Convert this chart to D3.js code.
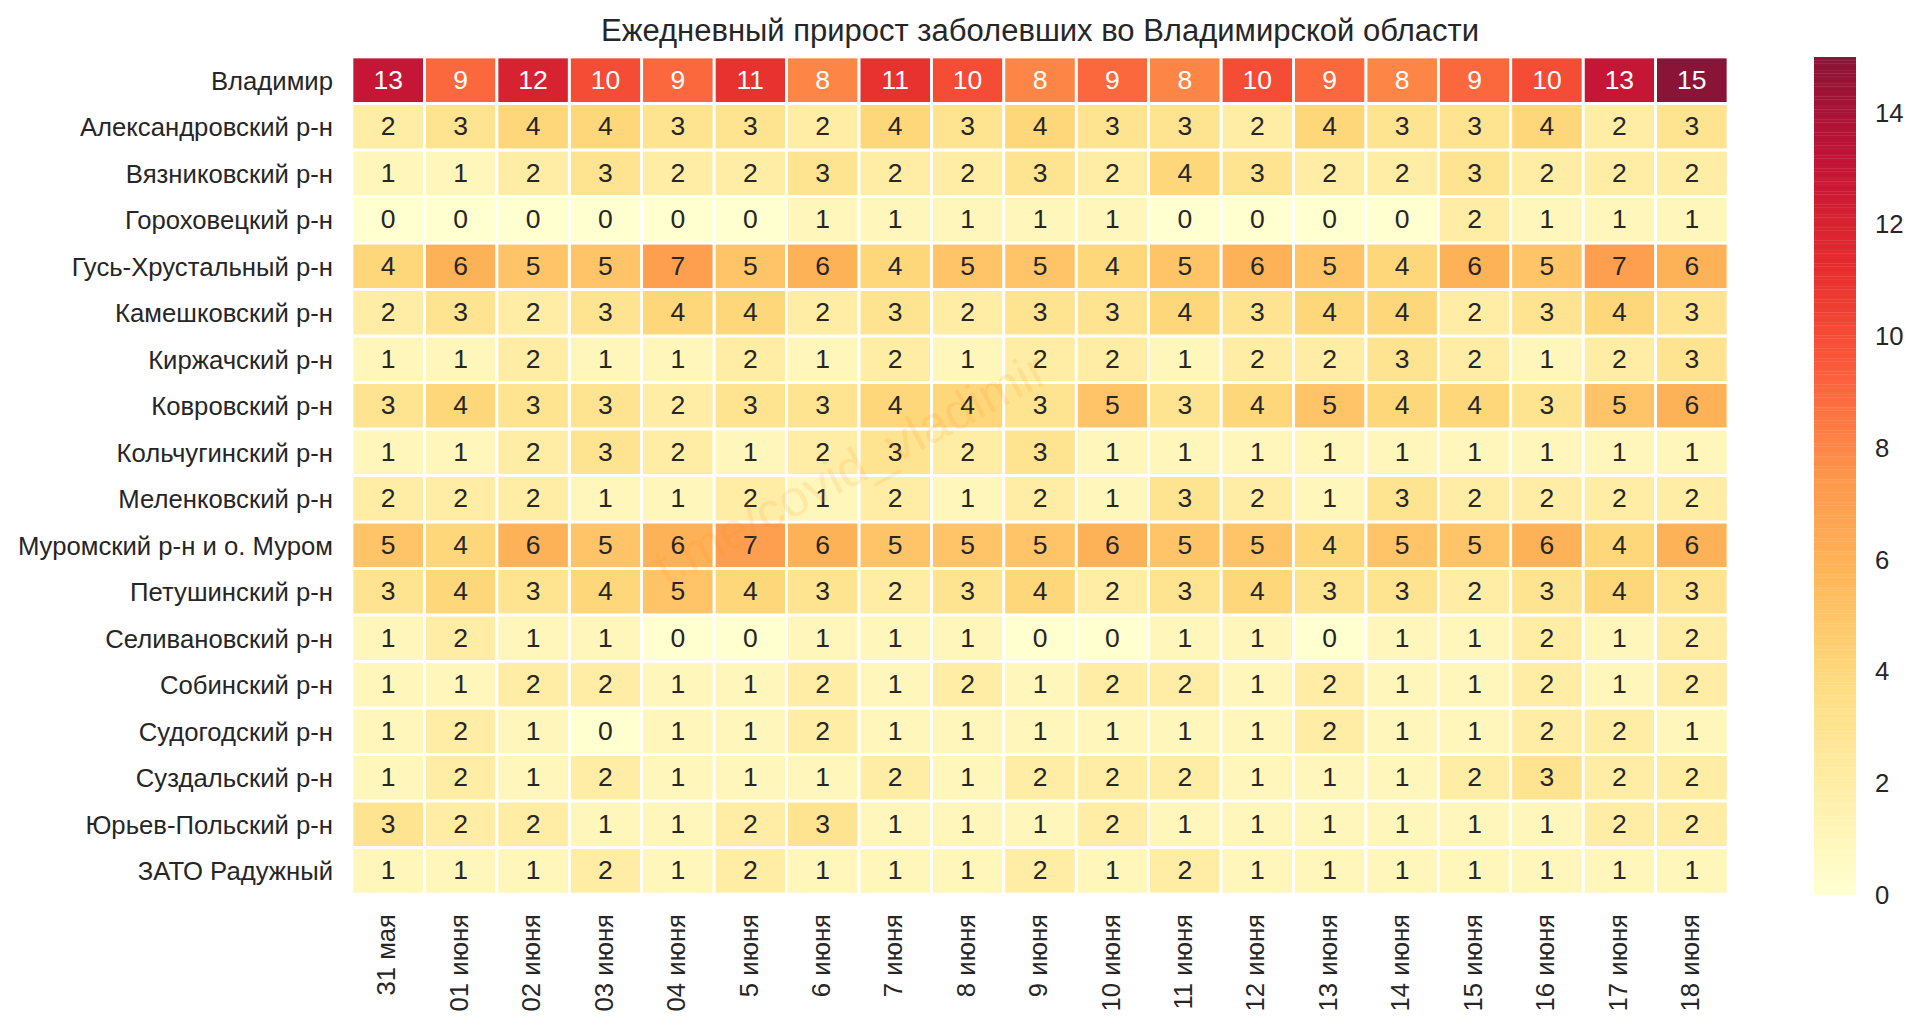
<!DOCTYPE html>
<html>
<head>
<meta charset="utf-8">
<script src="https://d3js.org/d3.v7.min.js"></script>
<style>
    html, body { margin: 0; padding: 0; background: #fff; }
    svg { display: block; font-family: "Liberation Sans", Arial, sans-serif; }
</style>
</head>
<body>
<svg id="chart" width="1920" height="1029"></svg>
<script>
const dates = ['31 мая', '01 июня', '02 июня', '03 июня', '04 июня', '5 июня', '6 июня', '7 июня', '8 июня', '9 июня',
    '10 июня', '11 июня', '12 июня', '13 июня', '14 июня', '15 июня', '16 июня', '17 июня', '18 июня'];

const districts = ['Владимир', 'Александровский р-н', 'Вязниковский р-н', 'Гороховецкий р-н', 'Гусь-Хрустальный р-н',
    'Камешковский р-н', 'Киржачский р-н', 'Ковровский р-н', 'Кольчугинский р-н', 'Меленковский р-н',
    'Муромский р-н и о. Муром', 'Петушинский р-н', 'Селивановский р-н', 'Собинский р-н', 'Судогодский р-н',
    'Суздальский р-н', 'Юрьев-Польский р-н', 'ЗАТО Радужный'];

const values = [
    [13, 9, 12, 10, 9, 11, 8, 11, 10, 8, 9, 8, 10, 9, 8, 9, 10, 13, 15],
    [2, 3, 4, 4, 3, 3, 2, 4, 3, 4, 3, 3, 2, 4, 3, 3, 4, 2, 3],
    [1, 1, 2, 3, 2, 2, 3, 2, 2, 3, 2, 4, 3, 2, 2, 3, 2, 2, 2],
    [0, 0, 0, 0, 0, 0, 1, 1, 1, 1, 1, 0, 0, 0, 0, 2, 1, 1, 1],
    [4, 6, 5, 5, 7, 5, 6, 4, 5, 5, 4, 5, 6, 5, 4, 6, 5, 7, 6],
    [2, 3, 2, 3, 4, 4, 2, 3, 2, 3, 3, 4, 3, 4, 4, 2, 3, 4, 3],
    [1, 1, 2, 1, 1, 2, 1, 2, 1, 2, 2, 1, 2, 2, 3, 2, 1, 2, 3],
    [3, 4, 3, 3, 2, 3, 3, 4, 4, 3, 5, 3, 4, 5, 4, 4, 3, 5, 6],
    [1, 1, 2, 3, 2, 1, 2, 3, 2, 3, 1, 1, 1, 1, 1, 1, 1, 1, 1],
    [2, 2, 2, 1, 1, 2, 1, 2, 1, 2, 1, 3, 2, 1, 3, 2, 2, 2, 2],
    [5, 4, 6, 5, 6, 7, 6, 5, 5, 5, 6, 5, 5, 4, 5, 5, 6, 4, 6],
    [3, 4, 3, 4, 5, 4, 3, 2, 3, 4, 2, 3, 4, 3, 3, 2, 3, 4, 3],
    [1, 2, 1, 1, 0, 0, 1, 1, 1, 0, 0, 1, 1, 0, 1, 1, 2, 1, 2],
    [1, 1, 2, 2, 1, 1, 2, 1, 2, 1, 2, 2, 1, 2, 1, 1, 2, 1, 2],
    [1, 2, 1, 0, 1, 1, 2, 1, 1, 1, 1, 1, 1, 2, 1, 1, 2, 2, 1],
    [1, 2, 1, 2, 1, 1, 1, 2, 1, 2, 2, 2, 1, 1, 1, 2, 3, 2, 2],
    [3, 2, 2, 1, 1, 2, 3, 1, 1, 1, 2, 1, 1, 1, 1, 1, 1, 2, 2],
    [1, 1, 1, 2, 1, 2, 1, 1, 1, 2, 1, 2, 1, 1, 1, 1, 1, 1, 1]
];

const colorbarTicks = [0, 2, 4, 6, 8, 10, 12, 14];

const LEFT = 352, RIGHT = 1728, TOP = 57, BOTTOM = 894;
const BAR_LEFT = 1814, BAR_RIGHT = 1856;
const TEXT_COLOR = '#262626';
const FONT_SIZE = 25.7;
const ALPHA = 0.92;

const svg = d3.select('#chart');

const x = d3.scaleBand().domain(dates).range([LEFT, RIGHT]);
const y = d3.scaleBand().domain(districts).range([TOP, BOTTOM]);

// same stops as matplotlib YlOrRd
const palette = d3.schemeYlOrRd[9];
const color = d3.scaleLinear()
    .domain(palette.map((c, i) => i * 15 / 8))
    .range(palette)
    .interpolate(d3.interpolateRgb);

const cells = [];
values.forEach((row, r) => row.forEach((v, c) => cells.push({ district: districts[r], date: dates[c], value: v })));

// cells
svg.append('g').selectAll('rect')
    .data(cells)
    .join('rect')
    .attr('x', d => x(d.date))
    .attr('y', d => y(d.district))
    .attr('width', x.bandwidth())
    .attr('height', y.bandwidth())
    .attr('fill', d => color(d.value))
    .attr('fill-opacity', ALPHA);

// white grid between the cells
svg.append('g').selectAll('rect')
    .data(cells)
    .join('rect')
    .attr('x', d => x(d.date))
    .attr('y', d => y(d.district))
    .attr('width', x.bandwidth())
    .attr('height', y.bandwidth())
    .attr('fill', 'none')
    .attr('stroke', '#fff')
    .attr('stroke-width', 2.7);

// annotations
svg.append('g').selectAll('text')
    .data(cells)
    .join('text')
    .text(d => d.value)
    .attr('x', d => x(d.date) + x.bandwidth() / 2)
    .attr('y', d => y(d.district) + y.bandwidth() / 2)
    .attr('dy', '0.32em')
    .attr('text-anchor', 'middle')
    .attr('font-size', 26.5)
    .attr('fill', d => d.value >= 8 ? '#fff' : TEXT_COLOR);

// axes
const axisLeft = svg.append('g')
    .attr('transform', `translate(${LEFT},1.5)`)
    .call(d3.axisLeft(y).tickSize(0).tickPadding(19));
axisLeft.select('.domain').remove();
axisLeft.selectAll('text')
    .attr('font-size', FONT_SIZE)
    .attr('font-family', '"Liberation Sans", Arial, sans-serif')
    .attr('fill', TEXT_COLOR);

const axisBottom = svg.append('g')
    .attr('transform', `translate(0,${BOTTOM})`)
    .call(d3.axisBottom(x).tickSize(0).tickPadding(0));
axisBottom.select('.domain').remove();
axisBottom.selectAll('text')
    .attr('font-size', FONT_SIZE)
    .attr('font-family', '"Liberation Sans", Arial, sans-serif')
    .attr('fill', TEXT_COLOR)
    .attr('text-anchor', 'end')
    .attr('dy', '0.32em')
    .attr('transform', 'translate(-1,20) rotate(-90)');

// colorbar
const barScale = d3.scaleLinear().domain([0, 15]).range([895, 57]);
const barStops = d3.range(0, 256).map(i => i * 15 / 256);

svg.append('g').selectAll('rect')
    .data(barStops)
    .join('rect')
    .attr('x', BAR_LEFT)
    .attr('y', d => barScale(d + 15 / 256))
    .attr('width', BAR_RIGHT - BAR_LEFT)
    .attr('height', d => barScale(d) - barScale(d + 15 / 256) + 0.25)
    .attr('fill', d => color(d))
    .attr('fill-opacity', ALPHA);

const barAxis = svg.append('g')
    .attr('transform', `translate(${BAR_RIGHT},0)`)
    .call(d3.axisRight(barScale).tickValues(colorbarTicks).tickSize(0).tickPadding(19));
barAxis.select('.domain').remove();
barAxis.selectAll('text')
    .attr('font-size', FONT_SIZE)
    .attr('font-family', '"Liberation Sans", Arial, sans-serif')
    .attr('fill', TEXT_COLOR);

// title
svg.append('text')
    .text('Ежедневный прирост заболевших во Владимирской области')
    .attr('x', (LEFT + RIGHT) / 2)
    .attr('y', 41)
    .attr('text-anchor', 'middle')
    .attr('font-size', 31)
    .attr('fill', TEXT_COLOR);

// watermark
svg.append('text')
    .text('t.me/covid_vladimir')
    .attr('transform', 'translate(666,586) rotate(-28)')
    .attr('font-size', 51)
    .attr('fill', '#ff8c1a')
    .attr('fill-opacity', 0.14);
</script>
</body>
</html>
